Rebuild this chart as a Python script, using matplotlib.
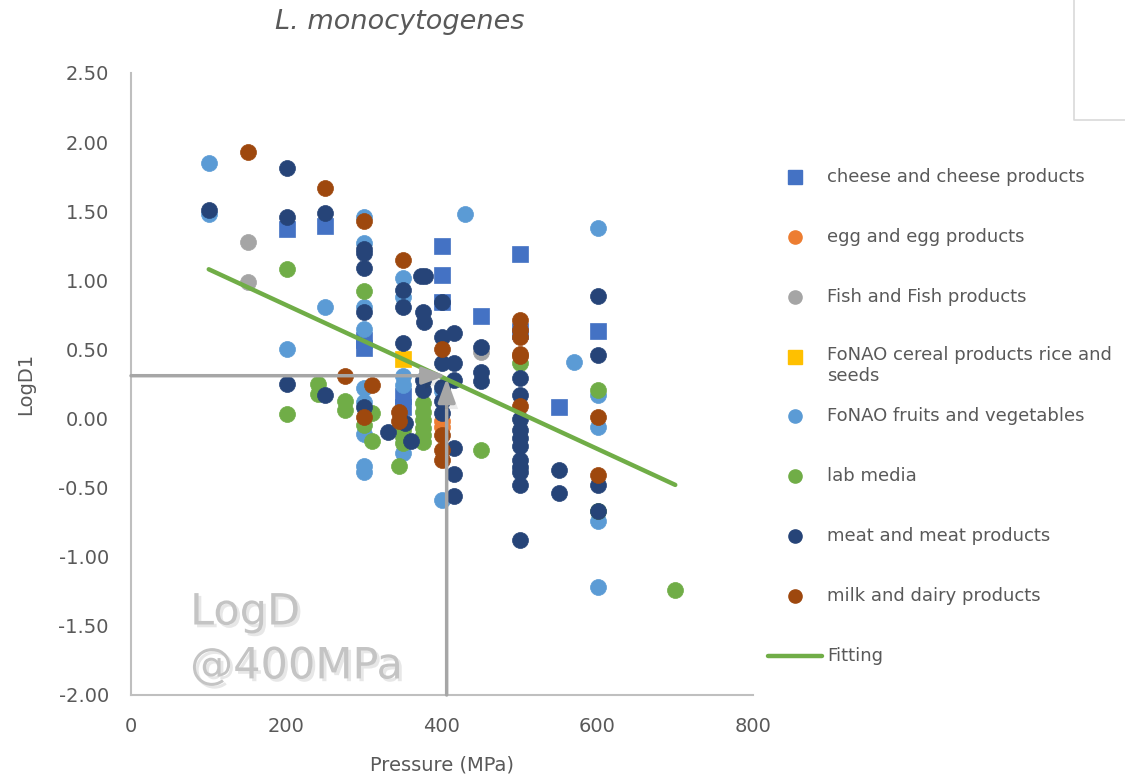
import matplotlib
matplotlib.use("Agg")
import matplotlib.pyplot as plt
import matplotlib.patheffects as pe
from matplotlib.lines import Line2D
from matplotlib.ticker import FormatStrFormatter

plt.rcParams['font.family'] = ['DejaVu Sans']
plt.rcParams['axes.unicode_minus'] = False

# Data: (pressure MPa, LogD1)
cheese_x = [200, 250, 300, 300, 350, 350, 400, 400, 400, 450, 500, 500, 550, 600]
cheese_y = [1.37, 1.39, 0.57, 0.51, 0.16, 0.08, 1.25, 1.04, 0.84, 0.74, 1.19, 0.63, 0.08, 0.63]

egg_x = [400, 400]
egg_y = [-0.02, -0.06]

fish_x = [150, 150, 450]
fish_y = [1.28, 0.99, 0.48]

cereal_x = [350]
cereal_y = [0.43]

fruit_x = [100, 100, 200, 250, 300, 300, 300, 300, 300, 300, 300, 300, 300,
           350, 350, 350, 350, 350, 400, 400, 430, 570, 600, 600, 600, 600, 600]
fruit_y = [1.85, 1.48, 0.50, 0.81, 1.46, 1.27, 0.81, 0.65, 0.22, 0.12, -0.11, -0.34, -0.39,
           1.02, 0.88, 0.31, 0.24, -0.25, 0.20, -0.59, 1.48, 0.41, 1.38, 0.17, -0.06, -0.74, -1.22]

lab_x = [200, 200, 240, 240, 275, 275, 300, 300, 310, 310, 350, 350, 350, 345,
         375, 375, 375, 375, 375, 375, 450, 500, 600, 600, 700]
lab_y = [1.08, 0.03, 0.25, 0.18, 0.13, 0.06, 0.92, -0.05, 0.04, -0.16, -0.08, -0.13, -0.18, -0.34,
         0.11, 0.05, -0.01, -0.07, -0.12, -0.17, -0.23, 0.40, 0.21, -0.67, -1.24]

meat_x = [100, 200, 200, 200, 250, 250, 300, 300, 300, 300, 300, 330, 350, 350, 350, 352, 360,
          373, 378, 375, 377, 375, 375, 400, 400, 400, 400, 400, 400, 415, 415, 415, 415, 415, 415,
          450, 450, 450, 500, 500, 500, 500, 500, 500, 500, 500, 500, 500, 500, 550, 550,
          600, 600, 600, 600]
meat_y = [1.51, 1.81, 1.46, 0.25, 1.49, 0.17, 1.23, 1.20, 1.09, 0.77, 0.08, -0.10, 0.93, 0.81, 0.55, -0.03, -0.16,
          1.03, 1.03, 0.77, 0.70, 0.28, 0.21, 0.84, 0.59, 0.40, 0.23, 0.13, 0.04, 0.62, 0.40, 0.28, -0.21, -0.40, -0.56,
          0.52, 0.34, 0.27, 0.29, 0.17, 0.00, -0.08, -0.14, -0.20, -0.30, -0.35, -0.39, -0.48, -0.88, -0.37, -0.54,
          0.89, 0.46, -0.48, -0.67]

milk_x = [150, 250, 300, 350, 275, 310, 300, 345, 345, 400, 400, 400, 400,
          500, 500, 500, 500, 500, 500, 600, 600]
milk_y = [1.93, 1.67, 1.43, 1.15, 0.31, 0.24, 0.01, 0.05, -0.02, 0.50, -0.12, -0.23, -0.30,
          0.71, 0.64, 0.59, 0.47, 0.45, 0.09, 0.01, -0.41]

fit_x = [100, 700]
fit_y = [1.08, -0.48]

# annotation: LogD read at 400 MPa
ref_p = 403
ref_logd = 0.31

series = [
    ("cheese and cheese products", cheese_x, cheese_y, '#4472C4', 's'),
    ("egg and egg products", egg_x, egg_y, '#ED7D31', 'o'),
    ("Fish and Fish products", fish_x, fish_y, '#A5A5A5', 'o'),
    ("FoNAO cereal products rice and\nseeds", cereal_x, cereal_y, '#FFC000', 's'),
    ("FoNAO fruits and vegetables", fruit_x, fruit_y, '#5B9BD5', 'o'),
    ("lab media", lab_x, lab_y, '#70AD47', 'o'),
    ("meat and meat products", meat_x, meat_y, '#264478', 'o'),
    ("milk and dairy products", milk_x, milk_y, '#9E480E', 'o'),
]

W, H = 1125, 782
fig = plt.figure(figsize=(W / 100, H / 100), dpi=100)
ax = fig.add_axes([131 / W, 1 - 695 / H, 622 / W, 622 / H])

for label, xs, ys, color, marker in series:
    ax.plot(xs, ys, linestyle='none', marker=marker, markersize=11.5,
            markerfacecolor=color, markeredgecolor=color, markeredgewidth=0.5, zorder=3)

ax.plot(fit_x, fit_y, color='#70AD47', lw=3.2, solid_capstyle='round', zorder=4)

# gray reference arrows with soft shadow
shadow = [pe.SimplePatchShadow(offset=(3, -4), alpha=0.10, rho=0.3), pe.Normal()]
astyle = '-|>,head_length=0.6,head_width=0.22'
arr_h = ax.annotate('', xy=(ref_p + 2, ref_logd), xytext=(0, ref_logd),
                    arrowprops=dict(arrowstyle=astyle, mutation_scale=24, lw=2.5,
                                    color='#A6A6A6', shrinkA=0, shrinkB=0), zorder=6)
arr_h.arrow_patch.set_path_effects(shadow)
arr_v = ax.annotate('', xy=(ref_p + 3, ref_logd - 0.02), xytext=(ref_p + 3, -2.0),
                    arrowprops=dict(arrowstyle=astyle, mutation_scale=24, lw=2.5,
                                    color='#A6A6A6', shrinkA=0, shrinkB=0), zorder=6)
arr_v.arrow_patch.set_path_effects(shadow)

# watermark text
wm_fx = [pe.withSimplePatchShadow(offset=(2, -2), alpha=0.12)]
ax.text(76, -1.49, "LogD", fontsize=31, color='#C4C4C4', va='baseline', ha='left',
        path_effects=wm_fx, zorder=2)
ax.text(76, -1.88, "@400MPa", fontsize=31, color='#C4C4C4', va='baseline', ha='left',
        path_effects=wm_fx, zorder=2)

ax.set_xlim(0, 800)
ax.set_ylim(-2.0, 2.5)
ax.set_xticks([0, 200, 400, 600, 800])
ax.set_yticks([-2.0, -1.5, -1.0, -0.5, 0.0, 0.5, 1.0, 1.5, 2.0, 2.5])
ax.yaxis.set_major_formatter(FormatStrFormatter('%.2f'))
ax.tick_params(length=0, labelsize=14, labelcolor='#595959')
ax.tick_params(axis='y', pad=16)
ax.tick_params(axis='x', pad=16)
for side in ['top', 'right']:
    ax.spines[side].set_visible(False)
for side in ['left', 'bottom']:
    ax.spines[side].set_color('#BFBFBF')
    ax.spines[side].set_linewidth(1.5)

ax.set_xlabel('Pressure (MPa)', fontsize=14, color='#595959')
ax.set_ylabel('LogD1', fontsize=14, color='#595959')
ax.xaxis.set_label_coords(0.5, -0.113)
ax.xaxis.label.set_va('center')
ax.yaxis.set_label_coords(-0.170, 0.5)
ax.yaxis.label.set_va('center')

fig.text(400 / W, 1 - 22 / H, 'L. monocytogenes', fontsize=19.5, style='italic',
         color='#595959', ha='center', va='center')

# legend, placed by hand
rows_y = [177, 237, 297, 357, 416, 476, 536, 596]
for (label, xs, ys, color, marker), ry in zip(series, rows_y):
    fig.add_artist(Line2D([795 / W], [1 - ry / H], marker=marker, markersize=9.5,
                          markerfacecolor=color, markeredgecolor=color, linestyle='none'))
    if '\n' in label:
        fig.text(827 / W, 1 - (ry - 11) / H, label, fontsize=13, color='#595959',
                 ha='left', va='top', linespacing=1.25)
    else:
        fig.text(827 / W, 1 - ry / H, label, fontsize=13, color='#595959',
                 ha='left', va='center')
fig.add_artist(Line2D([768 / W, 822 / W], [1 - 656 / H, 1 - 656 / H], color='#70AD47',
                      lw=3.2, solid_capstyle='round'))
fig.text(827 / W, 1 - 656 / H, 'Fitting', fontsize=13, color='#595959', ha='left', va='center')

# corner of a neighbouring frame in the top right
fig.add_artist(Line2D([1074 / W, 1074 / W, 1 + 0.01], [1.01, 1 - 120 / H, 1 - 120 / H],
                      color='#D9D9D9', lw=1.2))

fig.savefig('out.png', dpi=100)
